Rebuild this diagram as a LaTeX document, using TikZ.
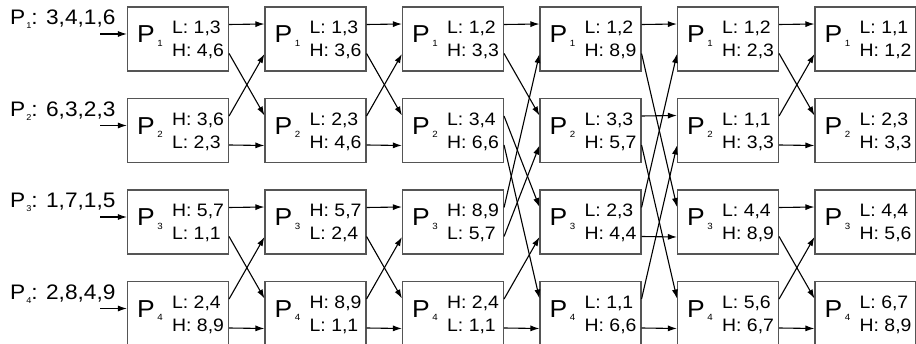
\documentclass[tikz,border=0pt]{standalone}
\usepackage{fontspec}
\setmainfont[FakeStretch=1.08]{Liberation Sans}
\usepackage{tikz}
\usetikzlibrary{arrows.meta,positioning}
\definecolor{boxgray}{HTML}{555555}
\newcommand{\psub}[1]{\kern2.5pt\raisebox{-3.5pt}{\fontsize{9}{9}\selectfont #1}}
\newcommand{\lsub}[1]{\kern1pt\raisebox{-4pt}{\fontsize{8.5}{8.5}\selectfont #1}}

\begin{document}
\begin{tikzpicture}[x=1pt,y=1pt,
  pbox/.style={draw=boxgray,line width=1.1pt,minimum width=101pt,minimum height=64pt,inner sep=0pt},
  pname/.style={anchor=base west,inner sep=0pt,font=\fontsize{24.5}{24.5}\selectfont},
  vals/.style={anchor=west,align=left,inner sep=0pt,font=\fontsize{18}{23}\selectfont},
  inlab/.style={anchor=base west,inner sep=0pt,font=\fontsize{21}{21}\selectfont},
  link/.style={-{Latex[length=9pt,width=6pt]},line width=1.1pt}]
\useasboundingbox (0,0) rectangle (916,-344);
% boxes: column/row/upper line/lower line
\foreach \c/\r/\ta/\tb in {
  1/1/{L: 1,3}/{H: 4,6}, 1/2/{H: 3,6}/{L: 2,3}, 1/3/{H: 5,7}/{L: 1,1}, 1/4/{L: 2,4}/{H: 8,9},
  2/1/{L: 1,3}/{H: 3,6}, 2/2/{L: 2,3}/{H: 4,6}, 2/3/{H: 5,7}/{L: 2,4}, 2/4/{H: 8,9}/{L: 1,1},
  3/1/{L: 1,2}/{H: 3,3}, 3/2/{L: 3,4}/{H: 6,6}, 3/3/{H: 8,9}/{L: 5,7}, 3/4/{H: 2,4}/{L: 1,1},
  4/1/{L: 1,2}/{H: 8,9}, 4/2/{L: 3,3}/{H: 5,7}, 4/3/{L: 2,3}/{H: 4,4}, 4/4/{L: 1,1}/{H: 6,6},
  5/1/{L: 1,2}/{H: 2,3}, 5/2/{L: 1,1}/{H: 3,3}, 5/3/{L: 4,4}/{H: 8,9}, 5/4/{L: 5,6}/{H: 6,7},
  6/1/{L: 1,1}/{H: 1,2}, 6/2/{L: 2,3}/{H: 3,3}, 6/3/{L: 4,4}/{H: 5,6}, 6/4/{L: 6,7}/{H: 8,9}}{
  \node[pbox] (b\c\r) at ({178+137.5*(\c-1)},{-39-91.5*(\r-1)}) {};
  \node[pname] (p\c\r) at ([xshift=10pt,yshift=-4pt]b\c\r.west) {P\psub{\r}};
  \node[vals] (v\c\r) at ([xshift=45pt,yshift=-1pt]b\c\r.west) {\ta\\\tb};
  \coordinate (ou\c\r) at ([yshift=14.5pt]b\c\r.east);
  \coordinate (od\c\r) at ([yshift=-14.5pt]b\c\r.east);
  \coordinate (iu\c\r) at ([yshift=15pt]b\c\r.west);
  \coordinate (id\c\r) at ([yshift=-15pt]b\c\r.west);
}
% inputs
\foreach \r/\seq in {1/{3,4,1,6},2/{6,3,2,3},3/{1,7,1,5},4/{2,8,4,9}}{
  \node[inlab] (l\r) at (10,{-25-91.5*(\r-1)}) {P\lsub{\r}: \seq};
  \coordinate (s\r) at (100,{-34-91.5*(\r-1)});
  \draw[link] (s\r) -- (s\r -| b1\r.west);
}
% butterfly stages
\foreach \s in {1,2,5}{
  \pgfmathtruncatemacro\t{\s+1}
  \foreach \a/\p/\b/\q in {1/u/1/u,1/d/2/u,2/u/1/d,2/d/2/d,3/u/3/u,3/d/4/u,4/u/3/d,4/d/4/d}
    \draw[link] (o\p\s\a) -- (i\q\t\b);
}
% stage 3
\foreach \a/\p/\b/\q in {1/u/1/u,1/d/2/u,2/u/3/u,2/d/4/u,3/u/1/d,3/d/2/d,4/u/3/d,4/d/4/d}
  \draw[link] (o\p3\a) -- (i\q4\b);
% stage 4
\foreach \a/\p/\b/\q in {1/u/1/u,1/d/3/u,2/u/2/u,2/d/4/u,3/u/1/d,3/d/3/d,4/u/2/d,4/d/4/d}
  \draw[link] (o\p4\a) -- (i\q5\b);
\end{tikzpicture}
\end{document}
